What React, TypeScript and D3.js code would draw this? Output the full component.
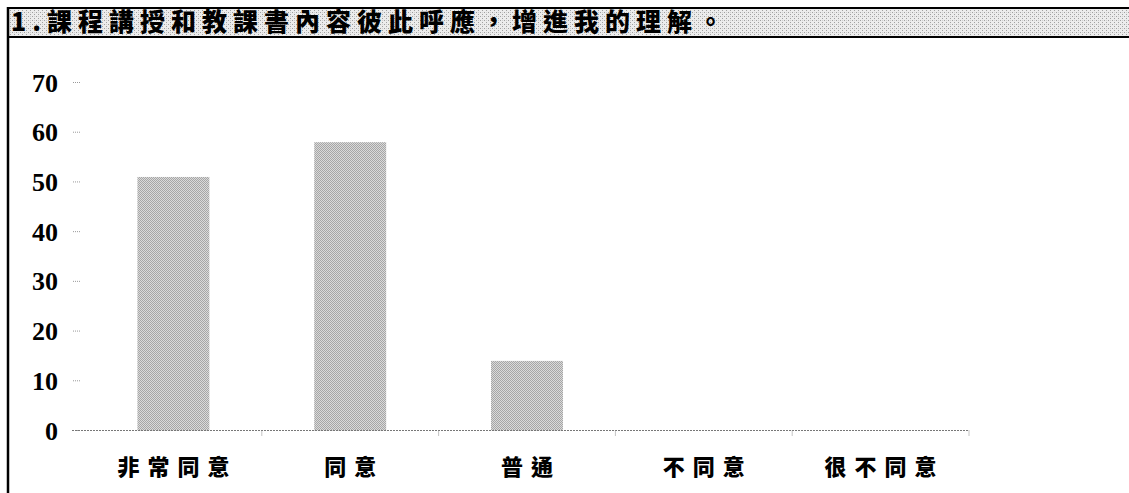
import React from "react";
import * as d3 from "d3";

const title = "1.課程講授和教課書內容彼此呼應，增進我的理解。";
const categories = ["非常同意", "同意", "普通", "不同意", "很不同意"];
const values = [51, 58, 14, 0, 0];
const yTicks = [0, 10, 20, 30, 40, 50, 60, 70];

const W = 1129;
const H = 493;

export default function App() {
  const y = d3.scaleLinear().domain([0, 70]).range([430.5, 82.5]);
  const xStep = d3.scaleBand<string>().domain(categories).range([85, 969]).padding(0);
  const xBar = d3
    .scaleBand<string>()
    .domain(categories)
    .range([85, 969])
    .paddingInner(0.593)
    .paddingOuter(0.2965);

  const tickXs = categories.map((c) => (xStep(c) as number) + xStep.bandwidth());

  return (
    <svg
      width={W}
      height={H}
      style={{ position: "absolute", left: 0, top: 0, background: "#fff" }}
    >
      <defs>
        <pattern id="titlePat" width="4" height="4" patternUnits="userSpaceOnUse">
          <rect width="4" height="4" fill="#ececec" />
          <rect x="0" y="0" width="1" height="1" fill="#a0a0a0" />
          <rect x="2" y="2" width="1" height="1" fill="#a0a0a0" />
          <rect x="2" y="0" width="1" height="1" fill="#cfcfcf" />
        </pattern>
        <pattern id="barPat" width="2" height="2" patternUnits="userSpaceOnUse">
          <rect width="2" height="2" fill="#dadada" />
          <rect x="0" y="0" width="1" height="1" fill="#a6a6a6" />
          <rect x="1" y="1" width="1" height="1" fill="#a6a6a6" />
        </pattern>
      </defs>

      {/* title bar */}
      <rect x={8} y={8} width={W - 8} height={29} fill="url(#titlePat)" />
      <line x1={7} x2={W} y1={8} y2={8} stroke="#000" strokeWidth={2} />
      <line x1={7} x2={W} y1={37} y2={37} stroke="#000" strokeWidth={2} />
      <line x1={8} x2={8} y1={7} y2={H} stroke="#000" strokeWidth={2.5} />
      <text
        x={11}
        y={31}
        fontFamily="'Noto Sans CJK TC', 'Liberation Serif', serif"
        fontWeight={900}
        fontSize={25}
        letterSpacing={6}
        fill="#000"
      >
        {title}
      </text>

      {/* y ticks */}
      {yTicks.map((t) => (
        <g key={t}>
          <line
            x1={73}
            x2={80}
            y1={y(t)}
            y2={y(t)}
            stroke="#999"
            strokeWidth={1}
            strokeDasharray="1 1"
          />
          <text
            x={58}
            y={y(t)}
            dy="0.35em"
            textAnchor="end"
            fontFamily="'Liberation Serif', serif"
            fontWeight="bold"
            fontSize={26}
            fill="#000"
          >
            {t}
          </text>
        </g>
      ))}

      {/* bars */}
      {categories.map((c, i) =>
        values[i] > 0 ? (
          <rect
            key={c}
            x={xBar(c)}
            y={y(values[i])}
            width={xBar.bandwidth()}
            height={y(0) - y(values[i])}
            fill="url(#barPat)"
          />
        ) : null
      )}

      {/* x axis */}
      <line
        x1={72}
        x2={969}
        y1={y(0)}
        y2={y(0)}
        stroke="#777"
        strokeWidth={1}
        strokeDasharray="2 1"
      />
      {tickXs.map((tx, i) => (
        <line
          key={i}
          x1={tx}
          x2={tx}
          y1={y(0)}
          y2={y(0) + 5}
          stroke="#888"
          strokeWidth={1}
          strokeDasharray="1 1"
        />
      ))}
      {categories.map((c) => (
        <text
          key={c}
          x={(xStep(c) as number) + xStep.bandwidth() / 2 + 4}
          y={475}
          textAnchor="middle"
          fontFamily="'Noto Sans CJK TC', serif"
          fontWeight={900}
          fontSize={22}
          letterSpacing={8}
          fill="#000"
        >
          {c}
        </text>
      ))}
    </svg>
  );
}
